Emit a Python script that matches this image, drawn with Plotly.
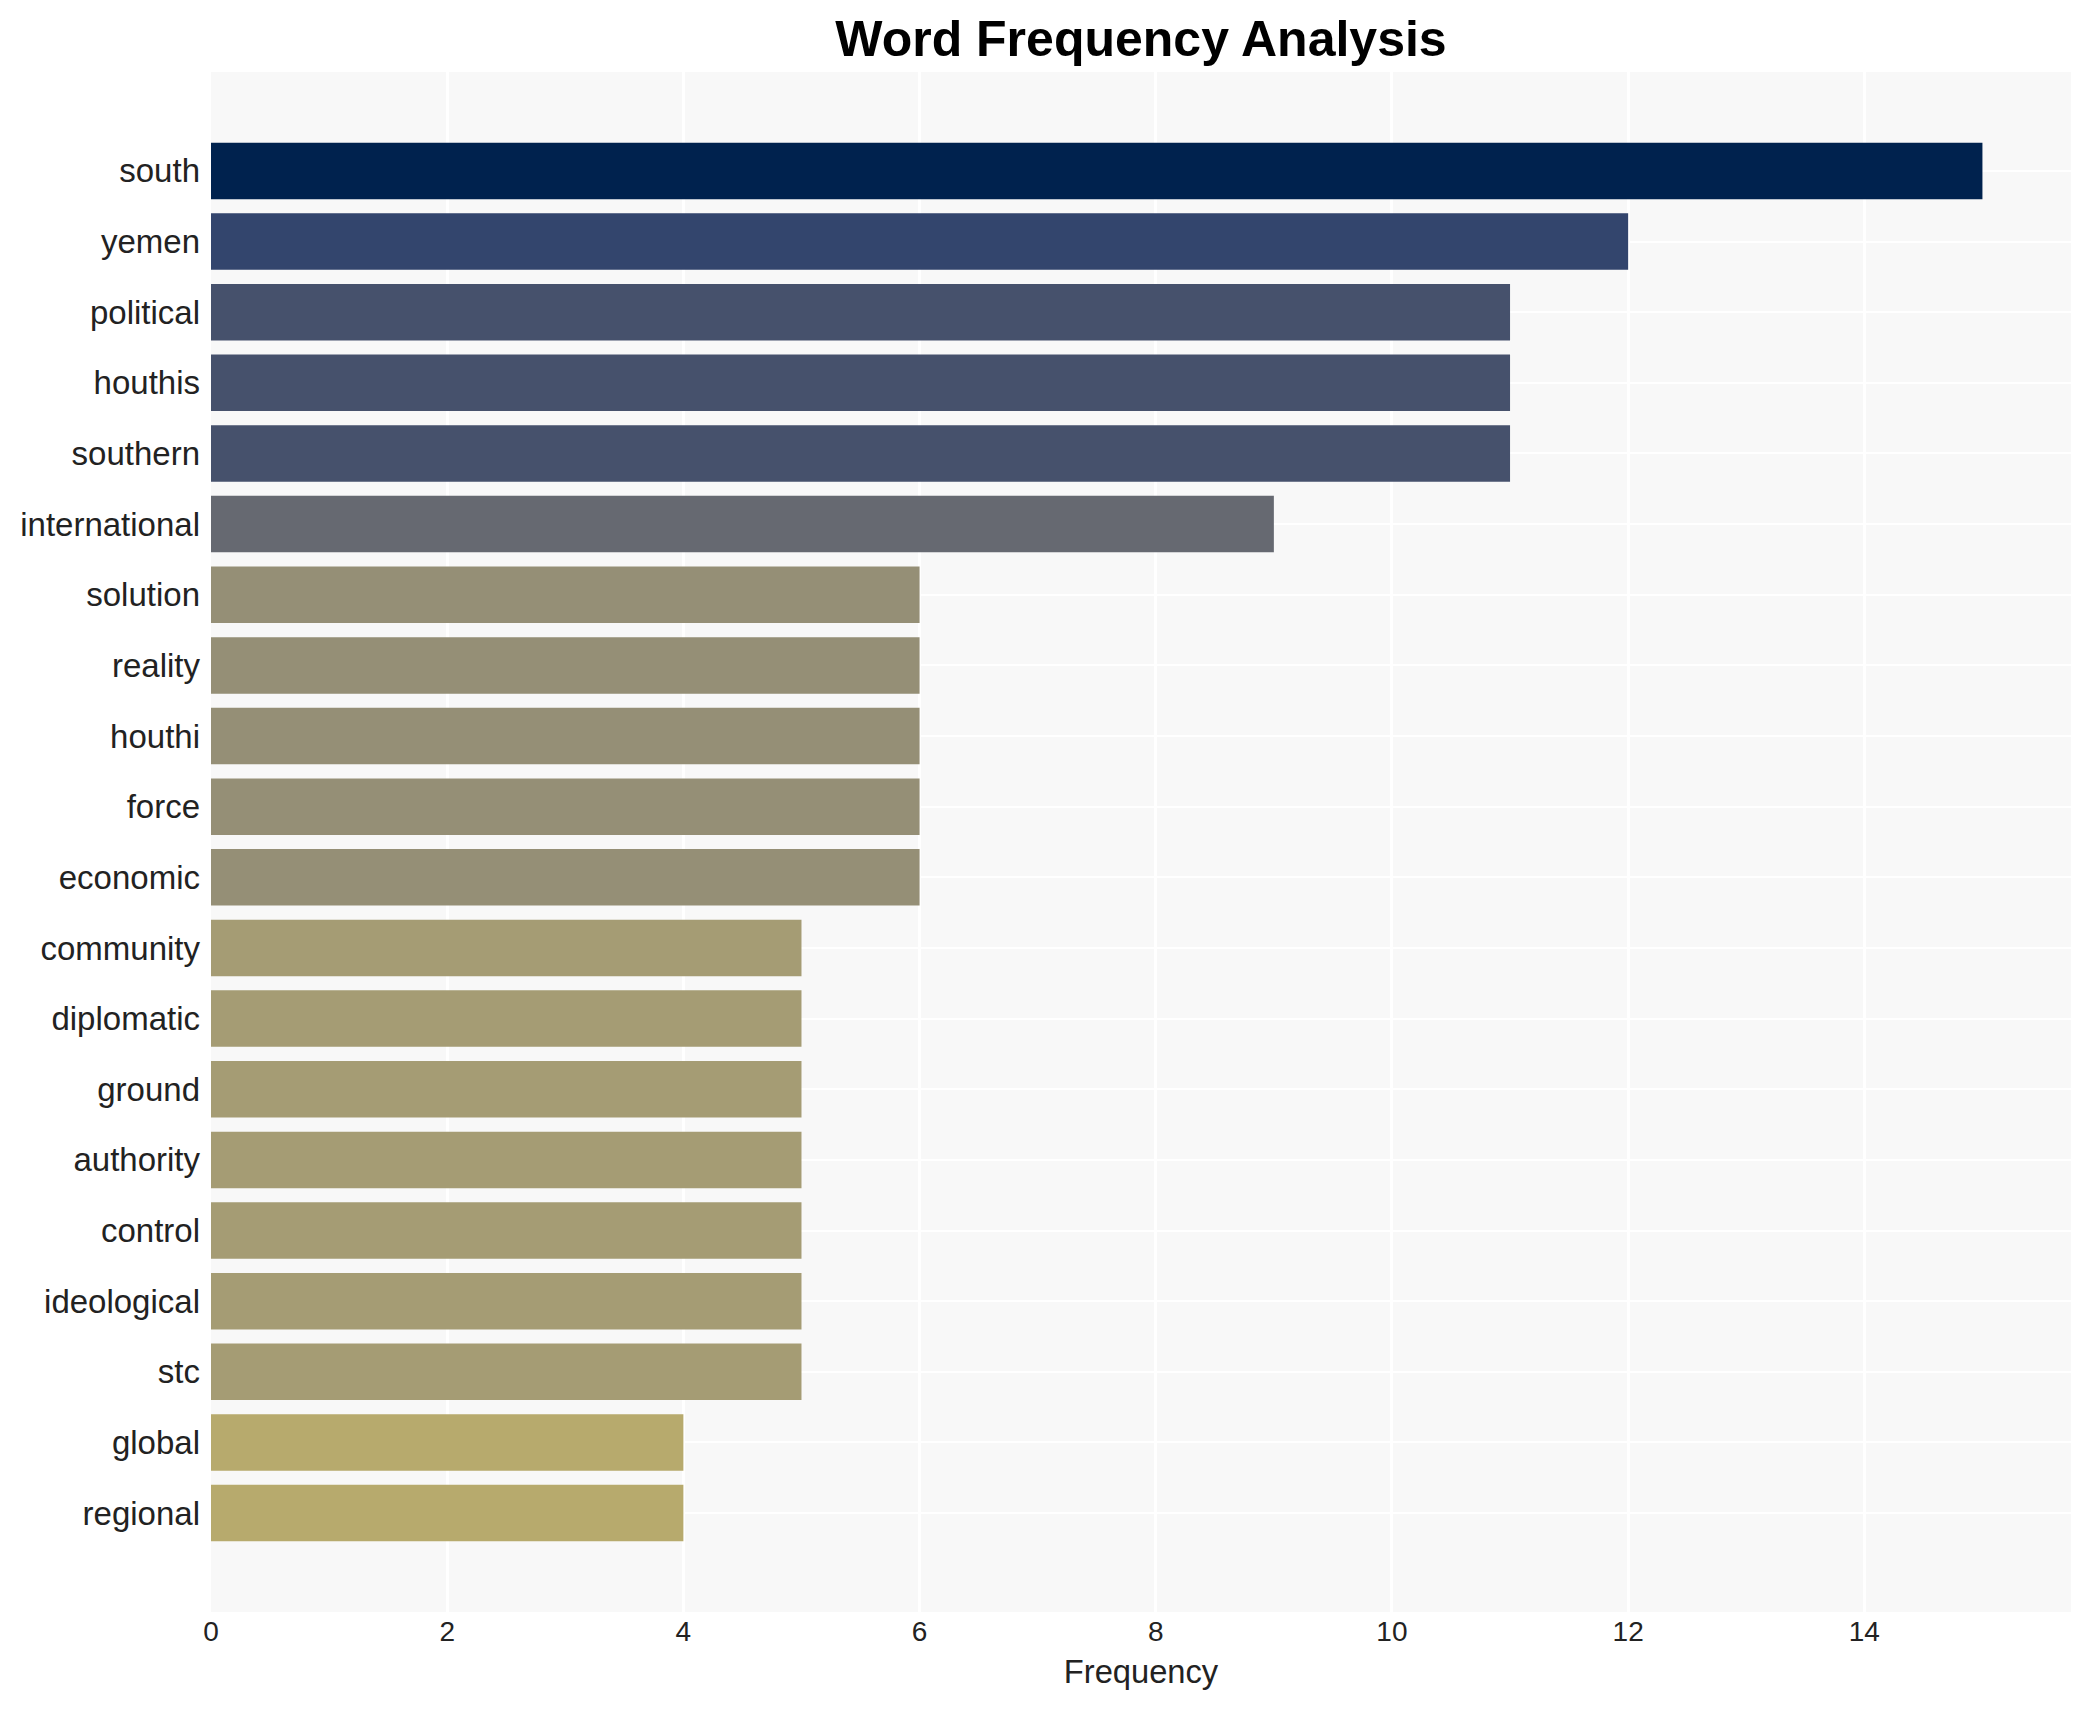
import plotly.graph_objects as go

words = ["south", "yemen", "political", "houthis", "southern", "international",
         "solution", "reality", "houthi", "force", "economic", "community",
         "diplomatic", "ground", "authority", "control", "ideological", "stc",
         "global", "regional"]
counts = [15, 12, 11, 11, 11, 9, 6, 6, 6, 6, 6, 5, 5, 5, 5, 5, 5, 5, 4, 4]
x_ticks = [0, 2, 4, 6, 8, 10, 12, 14]

FONT = "Arial, Liberation Sans, sans-serif"

# the page body adds an 8px offset, so the figure is 8px smaller and margins shifted
W, H = 2083, 1702

fig = go.Figure(
    go.Bar(
        x=counts,
        y=words,
        orientation="h",
        marker=dict(color=counts, colorscale="Cividis_r", cmin=0, cmax=15, line=dict(width=0)),
        showlegend=False,
    )
)

fig.update_layout(
    width=W,
    height=H,
    margin=dict(l=203, r=20, t=64, b=98, autoexpand=False),
    paper_bgcolor="white",
    plot_bgcolor="#f8f8f8",
    bargap=0.2,
    font=dict(family=FONT, color="#222222"),
    title=dict(
        text="<b>Word Frequency Analysis</b>",
        x=0.5,
        xref="paper",
        xanchor="center",
        y=1 - 30.5 / H,
        yref="container",
        yanchor="middle",
        font=dict(family=FONT, size=50, color="black"),
    ),
    xaxis=dict(
        range=[0, 15.75],
        tickvals=x_ticks,
        showgrid=True,
        gridcolor="white",
        gridwidth=2.5,
        zeroline=False,
        showline=False,
        ticks="",
        automargin=False,
        tickfont=dict(size=28, color="#222222"),
        title=dict(text="Frequency", font=dict(size=32.7, color="#222222"), standoff=14),
    ),
    yaxis=dict(
        type="category",
        categoryorder="array",
        categoryarray=words,
        range=[20.4, -1.4],
        showgrid=True,
        gridcolor="white",
        gridwidth=2,
        zeroline=False,
        showline=False,
        ticks="",
        automargin=False,
        ticklabelstandoff=10,
        tickfont=dict(size=33, color="#222222"),
    ),
)

fig.write_html("out.html")
